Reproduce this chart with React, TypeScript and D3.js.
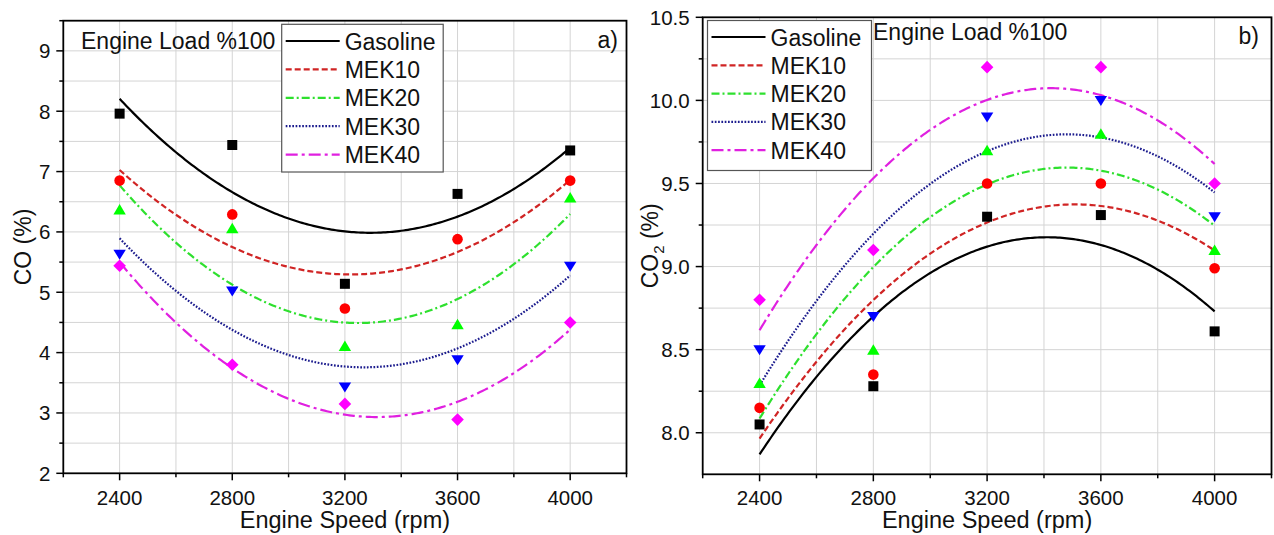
import React from 'react';
import * as d3 from 'd3';

// ---------- data ----------
const speeds = [2400, 2800, 3200, 3600, 4000];
const seriesNames = ['Gasoline', 'MEK10', 'MEK20', 'MEK30', 'MEK40'];

const coGasoline = [7.96, 7.44, 5.14, 6.63, 7.35];
const coMEK10 = [6.85, 6.29, 4.73, 5.88, 6.85];
const coMEK20 = [6.37, 6.06, 4.11, 4.47, 6.57];
const coMEK30 = [5.63, 5.02, 3.43, 3.88, 5.43];
const coMEK40 = [5.44, 3.80, 3.15, 2.89, 4.50];

const co2Gasoline = [8.05, 8.28, 9.30, 9.31, 8.61];
const co2MEK10 = [8.15, 8.35, 9.50, 9.50, 8.99];
const co2MEK20 = [8.30, 8.50, 9.70, 9.80, 9.10];
const co2MEK30 = [8.50, 8.70, 9.90, 10.00, 9.30];
const co2MEK40 = [8.80, 9.10, 10.20, 10.20, 9.50];

const xTickLabels = [2400, 2800, 3200, 3600, 4000];
const coTickLabels = [2, 3, 4, 5, 6, 7, 8, 9];
const co2TickLabels = [8.0, 8.5, 9.0, 9.5, 10.0, 10.5];

// ---------- styles ----------
const FONT = "'Liberation Sans', Arial, Helvetica, sans-serif";
const seriesStyle: Record<string, any> = {
  Gasoline: { line: '#000000', fill: '#000000', dash: null, width: 2.2, shape: 'square' },
  MEK10: { line: '#d02424', fill: '#ff0000', dash: '6,3', width: 2.2, shape: 'circle' },
  MEK20: { line: '#2ee02e', fill: '#00ff00', dash: '8,3,2,3', width: 2.2, shape: 'up' },
  MEK30: { line: '#1c1c8e', fill: '#0000ff', dash: '1.7,1.6', width: 2.2, shape: 'down' },
  MEK40: { line: '#e020e0', fill: '#ff00ff', dash: '12,4,3,4', width: 2.2, shape: 'diamond' },
};

function markerPath(shape: string): string {
  switch (shape) {
    case 'square': return 'M-5,-5H5V5H-5Z';
    case 'up': return 'M0,-5.5L6.2,5L-6.2,5Z';
    case 'down': return 'M-6.2,-4.5L6.2,-4.5L0,5.5Z';
    case 'diamond': return 'M0,-6.3L6.3,0L0,6.3L-6.3,0Z';
    default: return '';
  }
}

// least-squares quadratic fit, evaluated from the data
function quadFit(xs: number[], ys: number[]) {
  const mx = d3.mean(xs) as number;
  const u = xs.map((x) => (x - mx) / 400);
  const n = u.length;
  const s1 = d3.sum(u), s2 = d3.sum(u, (v) => v * v), s3 = d3.sum(u, (v) => v ** 3), s4 = d3.sum(u, (v) => v ** 4);
  const t0 = d3.sum(ys), t1 = d3.sum(ys, (y, i) => y * u[i]), t2 = d3.sum(ys, (y, i) => y * u[i] * u[i]);
  const M = [[n, s1, s2, t0], [s1, s2, s3, t1], [s2, s3, s4, t2]];
  for (let i = 0; i < 3; i++) {
    let p = i;
    for (let r = i + 1; r < 3; r++) if (Math.abs(M[r][i]) > Math.abs(M[p][i])) p = r;
    [M[i], M[p]] = [M[p], M[i]];
    for (let r = 0; r < 3; r++) {
      if (r === i) continue;
      const f = M[r][i] / M[i][i];
      for (let c = i; c < 4; c++) M[r][c] -= f * M[i][c];
    }
  }
  const a = M[0][3] / M[0][0], b = M[1][3] / M[1][1], c = M[2][3] / M[2][2];
  return (x: number) => { const v = (x - mx) / 400; return a + b * v + c * v * v; };
}

type PanelProps = {
  x0: number; x1: number; yTop: number; yBot: number;
  yDomain: [number, number];
  yTicks: number[]; yMinorStep: number; yGridStep: number; yFmt: (v: number) => string;
  series: number[][];
  legend: { x: number; y: number; w: number; h: number; baseline0: number; step: number };
  loadText: { x: number; y: number };
  tag: { text: string; x: number; y: number };
  yTitle: React.ReactNode; yTitleX: number;
};

function Panel(p: PanelProps) {
  const x = d3.scaleLinear().domain([2200, 4200]).range([p.x0, p.x1]);
  const y = d3.scaleLinear().domain(p.yDomain).range([p.yBot, p.yTop]);
  const xGrid = d3.range(2400, 4001, 200);
  const eps = 1e-6;
  const yGrid: number[] = [];
  for (let v = p.yDomain[0]; v <= p.yDomain[1] + eps; v += p.yGridStep) {
    if (v > p.yDomain[0] + eps && v < p.yDomain[1] - eps) yGrid.push(+v.toFixed(4));
  }
  const yMinor: number[] = [];
  for (let v = p.yTicks[0] - p.yMinorStep; v <= p.yDomain[1] + eps; v += p.yMinorStep * 2) {
    if (v > p.yDomain[0] + eps) yMinor.push(+v.toFixed(4));
  }
  const xMinor = d3.range(2200, 4201, 400);
  const sampleX = d3.range(2400, 4000.01, 8);
  const line = d3.line<number>().x((d) => x(d));
  return (
    <g>
      {xGrid.map((g) => (
        <line key={'xg' + g} x1={x(g)} x2={x(g)} y1={p.yTop} y2={p.yBot} stroke="#d4d4d4" strokeWidth={1} />
      ))}
      {yGrid.map((g) => (
        <line key={'yg' + g} x1={p.x0} x2={p.x1} y1={y(g)} y2={y(g)} stroke="#d4d4d4" strokeWidth={1} />
      ))}
      {p.series.map((ys, i) => {
        const st = seriesStyle[seriesNames[i]];
        const f = quadFit(speeds, ys);
        const d = line.y((v) => y(f(v)))(sampleX) as string;
        return <path key={'fit' + i} d={d} fill="none" stroke={st.line} strokeWidth={st.width}
          strokeDasharray={st.dash || undefined} />;
      })}
      {p.series.map((ys, i) => {
        const st = seriesStyle[seriesNames[i]];
        return ys.map((v, j) => (
          st.shape === 'circle'
            ? <circle key={'m' + i + '-' + j} cx={x(speeds[j])} cy={y(v)} r={5.3} fill={st.fill} />
            : <path key={'m' + i + '-' + j} transform={`translate(${x(speeds[j])},${y(v)})`} d={markerPath(st.shape)} fill={st.fill} />
        ));
      })}
      <rect x={p.x0} y={p.yTop} width={p.x1 - p.x0} height={p.yBot - p.yTop} fill="none" stroke="#000" strokeWidth={1.8} />
      {xTickLabels.map((t) => (
        <g key={'xt' + t}>
          <line x1={x(t)} x2={x(t)} y1={p.yBot} y2={p.yBot + 7} stroke="#000" strokeWidth={1.5} />
          <text x={x(t)} y={505} textAnchor="middle" fontSize={20.5} fontFamily={FONT} fill="#111">{t}</text>
        </g>
      ))}
      {xMinor.map((t) => (
        <line key={'xm' + t} x1={x(t)} x2={x(t)} y1={p.yBot} y2={p.yBot + 4} stroke="#000" strokeWidth={1.5} />
      ))}
      {p.yTicks.map((t) => (
        <g key={'yt' + t}>
          <line x1={p.x0 - 7} x2={p.x0} y1={y(t)} y2={y(t)} stroke="#000" strokeWidth={1.5} />
          <text x={p.x0 - 13} y={y(t)} dy="0.36em" textAnchor="end" fontSize={20.5} fontFamily={FONT} fill="#111">{p.yFmt(t)}</text>
        </g>
      ))}
      {yMinor.map((t) => (
        <line key={'ym' + t} x1={p.x0 - 4} x2={p.x0} y1={y(t)} y2={y(t)} stroke="#000" strokeWidth={1.5} />
      ))}
      <text x={(p.x0 + p.x1) / 2} y={528} textAnchor="middle" fontSize={23.5} fontFamily={FONT} fill="#111">Engine Speed (rpm)</text>
      <text transform={`translate(${p.yTitleX},${(p.yTop + p.yBot) / 2}) rotate(-90)`} textAnchor="middle" dy="0.36em"
        fontSize={23} fontFamily={FONT} fill="#111">{p.yTitle}</text>
      <text x={p.loadText.x} y={p.loadText.y} fontSize={23} fontFamily={FONT} fill="#111">Engine Load %100</text>
      <text x={p.tag.x} y={p.tag.y} textAnchor="end" fontSize={23} fontFamily={FONT} fill="#111">{p.tag.text}</text>
      <g>
        <rect x={p.legend.x} y={p.legend.y} width={p.legend.w} height={p.legend.h} fill="#fff" stroke="#555" strokeWidth={1.2} />
        {seriesNames.map((name, i) => {
          const st = seriesStyle[name];
          const by = p.legend.baseline0 + i * p.legend.step;
          return (
            <g key={'lg' + name}>
              <line x1={p.legend.x + 4} x2={p.legend.x + 58} y1={by - 8.5} y2={by - 8.5} stroke={st.line}
                strokeWidth={st.width} strokeDasharray={st.dash || undefined} />
              <text x={p.legend.x + 63} y={by} fontSize={23} fontFamily={FONT} fill="#111">{name}</text>
            </g>
          );
        })}
      </g>
    </g>
  );
}

export default function App() {
  return (
    <div style={{ position: 'fixed', left: 0, top: 0 }}>
      <svg width={1274} height={535} viewBox="0 0 1274 535" style={{ display: 'block', background: '#fff' }}>
        <rect width={1274} height={535} fill="#fff" />
        <Panel
          x0={63.3} x1={626.5} yTop={20.7} yBot={473.3}
          yDomain={[2, 9.5]} yTicks={coTickLabels} yMinorStep={0.5} yGridStep={0.5}
          yFmt={(v) => String(v)}
          series={[coGasoline, coMEK10, coMEK20, coMEK30, coMEK40]}
          legend={{ x: 281.7, y: 24.3, w: 161.5, h: 147.7, baseline0: 49.5, step: 28.4 }}
          loadText={{ x: 81, y: 48.5 }}
          tag={{ text: 'a)', x: 618, y: 47.5 }}
          yTitle="CO (%)" yTitleX={22.5}
        />
        <Panel
          x0={702.7} x1={1271.5} yTop={17.3} yBot={474.3}
          yDomain={[7.75, 10.5]} yTicks={co2TickLabels} yMinorStep={0.25} yGridStep={0.25}
          yFmt={(v) => v.toFixed(1)}
          series={[co2Gasoline, co2MEK10, co2MEK20, co2MEK30, co2MEK40]}
          legend={{ x: 707.5, y: 20.5, w: 164, h: 150, baseline0: 45.5, step: 28.3 }}
          loadText={{ x: 873, y: 40 }}
          tag={{ text: 'b)', x: 1259, y: 44 }}
          yTitle={<>CO<tspan fontSize={15} dy="6">2</tspan><tspan dy="-6"> (%)</tspan></>} yTitleX={650}
        />
      </svg>
    </div>
  );
}
